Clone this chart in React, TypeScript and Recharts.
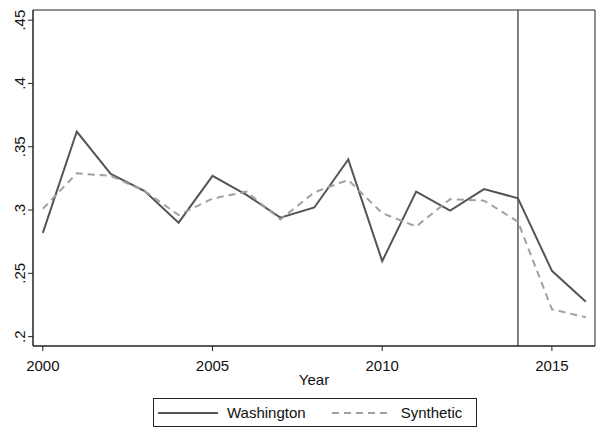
import {
  LineChart,
  Line,
  XAxis,
  YAxis,
  ReferenceLine,
  ReferenceArea,
  Legend,
} from "recharts";

const years = [2000, 2001, 2002, 2003, 2004, 2005, 2006, 2007, 2008, 2009, 2010, 2011, 2012, 2013, 2014, 2015, 2016];
const washington = [0.282, 0.362, 0.3285, 0.315, 0.29, 0.327, 0.312, 0.294, 0.302, 0.34, 0.2596, 0.3145, 0.2995, 0.3165, 0.3093, 0.252, 0.2275];
const synthetic = [0.301, 0.329, 0.327, 0.315, 0.296, 0.309, 0.3145, 0.2925, 0.314, 0.3238, 0.2975, 0.287, 0.3085, 0.3074, 0.2908, 0.2216, 0.2153];
const xTicks = [2000, 2005, 2010, 2015];
const yTicks = [0.2, 0.25, 0.3, 0.35, 0.4, 0.45];
const treatYear = 2014;

const xDomain: [number, number] = [1999.71, 2016.27];
const yDomain: [number, number] = [0.1926, 0.458];

const data = years.map((y, i) => ({ year: y, washington: washington[i], synthetic: synthetic[i] }));

const FONT = "'Liberation Sans', Arial, sans-serif";
const SOLID = "#555555";
const DASHED = "#a0a0a0";

function fmtY(v: number) {
  return String(v).replace(/^0/, "");
}

function YTick({ x, y, payload }: any) {
  return (
    <text
      x={x}
      y={y}
      transform={`rotate(-90, ${x}, ${y})`}
      textAnchor="middle"
      fontSize={15}
      fontFamily={FONT}
      fill="#111"
    >
      {fmtY(payload.value)}
    </text>
  );
}

function XTick({ x, y, payload }: any) {
  return (
    <text x={x} y={y + 18} textAnchor="middle" fontSize={15} fontFamily={FONT} fill="#111">
      {payload.value}
    </text>
  );
}

function LegendBox() {
  const item = (color: string, dash: string | undefined, label: string) => (
    <div style={{ display: "flex", alignItems: "center", gap: 9 }}>
      <svg width={60} height={4}>
        <line x1={0} y1={2} x2={60} y2={2} stroke={color} strokeWidth={2} strokeDasharray={dash} />
      </svg>
      <span>{label}</span>
    </div>
  );
  return (
    <div
      style={{
        boxSizing: "border-box",
        width: 324,
        height: 29,
        border: "1px solid #222",
        display: "flex",
        alignItems: "center",
        gap: 26,
        paddingLeft: 4,
        fontFamily: FONT,
        fontSize: 15,
        color: "#111",
      }}
    >
      {item(SOLID, undefined, "Washington")}
      {item(DASHED, "7 5", "Synthetic")}
    </div>
  );
}

export default function App() {
  return (
    <div style={{ position: "absolute", left: 0, top: 0, background: "#fff" }}>
      <LineChart width={597} height={427} data={data} margin={{ top: 10, right: 2, left: 0, bottom: 0 }}>
        <XAxis
          dataKey="year"
          type="number"
          domain={xDomain}
          ticks={xTicks}
          allowDataOverflow
          height={81}
          tickSize={5}
          tickMargin={2}
          tick={<XTick />}
          axisLine={{ stroke: "#222" }}
          tickLine={{ stroke: "#222" }}
          label={{
            value: "Year",
            position: "insideTop",
            offset: 28,
            fontSize: 15,
            fontFamily: FONT,
            fill: "#111",
          }}
        />
        <YAxis
          type="number"
          domain={yDomain}
          ticks={yTicks}
          allowDataOverflow
          width={33}
          tickSize={5}
          tickMargin={2.5}
          tick={<YTick />}
          axisLine={{ stroke: "#222" }}
          tickLine={{ stroke: "#222" }}
        />
        <ReferenceArea
          x1={xDomain[0]}
          x2={xDomain[1]}
          y1={yDomain[0]}
          y2={yDomain[1]}
          fill="none"
          stroke="#222"
          strokeWidth={1}
        />
        <ReferenceLine x={treatYear} stroke="#555" strokeWidth={1.5} />
        <Line
          type="linear"
          dataKey="washington"
          name="Washington"
          stroke={SOLID}
          strokeWidth={2}
          dot={false}
          isAnimationActive={false}
        />
        <Line
          type="linear"
          dataKey="synthetic"
          name="Synthetic"
          stroke={DASHED}
          strokeWidth={2}
          strokeDasharray="7 5"
          dot={false}
          isAnimationActive={false}
        />
        <Legend
          layout="horizontal"
          verticalAlign="middle"
          align="center"
          content={<LegendBox />}
          wrapperStyle={{ left: 153, top: 398, width: 324, height: 29 }}
        />
      </LineChart>
    </div>
  );
}
